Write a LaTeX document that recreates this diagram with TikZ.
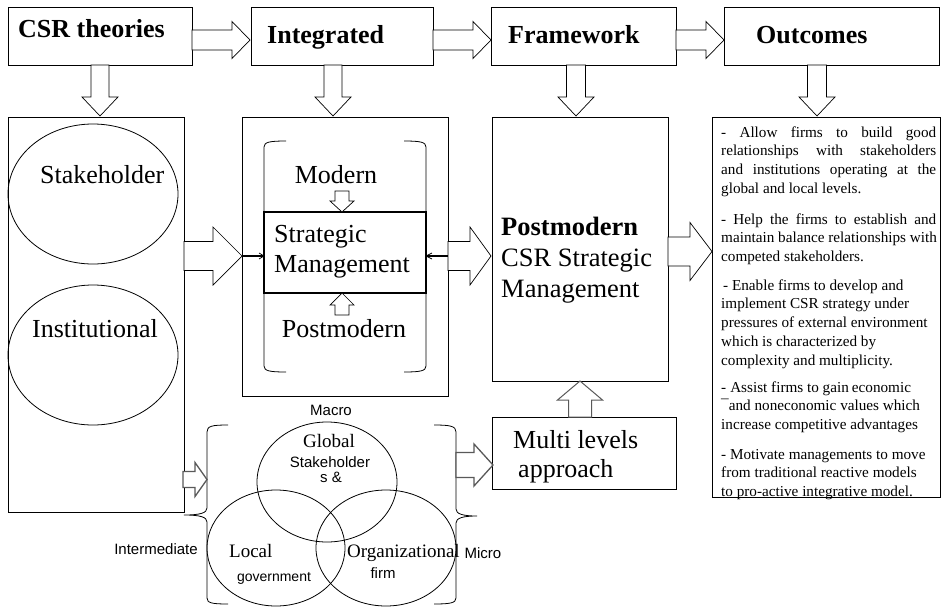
\documentclass[tikz,border=0pt]{standalone}
\usepackage{fontspec}
\setmainfont{Liberation Serif}
\newfontfamily\arialf{Liberation Sans}
\usetikzlibrary{shapes.geometric}
\newcommand\rarr[7][blk]{\filldraw[#1] (#2,#5-#6) -- (#3,#5-#6) -- (#3,#5-#7) -- (#4,#5) -- (#3,#5+#7) -- (#3,#5+#6) -- (#2,#5+#6) -- cycle;}
\newcommand\darr[7][blk]{\filldraw[#1] (#5-#6,#2) -- (#5-#6,#3) -- (#5-#7,#3) -- (#5,#4) -- (#5+#7,#3) -- (#5+#6,#3) -- (#5+#6,#2) -- cycle;}
\newcommand\jl[1]{\hbox to\hsize{\spaceskip=0.25em plus 1fil\relax#1}}
\begin{document}
\begin{tikzpicture}[x=1pt,y=-1pt,
 box/.style={draw, line width=0.8pt, anchor=north west, inner sep=0pt, outer sep=0pt},
 blk/.style={draw, line width=0.7pt, fill=white, line join=miter},
 gblk/.style={draw=black!65, line width=1.3pt, fill=white, line join=miter},
 txt/.style={inner sep=0pt, anchor=base west},
 txtc/.style={inner sep=0pt, anchor=base},
 circ/.style={draw, ellipse, line width=0.8pt, inner sep=0pt},
 big/.style={font=\fontsize{26}{31}\selectfont},
 head/.style={font=\fontsize{26}{30}\selectfont\bfseries},
 venn/.style={font=\fontsize{19}{22}\selectfont},
 sans/.style={font=\arialf\fontsize{15}{18}\selectfont},
 para/.style={inner sep=0pt, anchor=base west, font=\fontsize{15.2}{18.8}\selectfont},
]
\useasboundingbox (0,0) rectangle (942,608);
% top row
\node[box, minimum width=184pt, minimum height=58pt] (csr) at (8,7) {};
\node[box, minimum width=182pt, minimum height=58pt] (integ) at (251,7) {};
\node[box, minimum width=185pt, minimum height=58pt] (frame) at (491,7) {};
\node[box, minimum width=215pt, minimum height=58pt] (outc) at (724,7) {};
\node[txt, head] (tcsr) at (18,37) {CSR theories};
\node[txt, head] (tint) at (267,43) {Integrated};
\node[txt, head] (tfra) at (508,43) {Framework};
\node[txt, head] (tout) at (756,43) {Outcomes};
\rarr{192}{232}{250}{40}{10}{18.5}
\rarr{433}{473}{491}{40}{10}{18.5}
\rarr{676}{706}{724}{40}{10}{18.5}
\darr{65}{97}{116}{100}{9}{18}
\darr{65}{97}{116}{333}{9}{18}
\darr{65}{97}{116}{576}{9.5}{18}
\darr{65}{97}{116}{817}{9.5}{18}
% second row
\node[box, minimum width=176pt, minimum height=395pt] (lbox) at (8,117) {};
\node[box, minimum width=206pt, minimum height=279pt] (mbox) at (242,117) {};
\node[box, minimum width=176pt, minimum height=264pt] (pbox) at (492,117) {};
\node[box, minimum width=228pt, minimum height=380pt] (obox) at (712,117) {};
\node[circ, minimum width=170pt, minimum height=140pt] (estk) at (93,194) {};
\node[circ, minimum width=170pt, minimum height=140pt] (eins) at (93,355) {};
\node[txt, big] (tstk) at (40,183) {Stakeholder};
\node[txt, big] (tins) at (32,337) {Institutional};
% middle box contents
\draw[line width=0.8pt] (286,141) .. controls (270,141) and (264,142) .. (264,147) -- (264,366) .. controls (264,371) and (270,372) .. (286,372);
\draw[line width=0.8pt] (404,141) .. controls (420,141) and (426,142) .. (426,147) -- (426,366) .. controls (426,371) and (420,372) .. (404,372);
\node[box, line width=1.3pt, minimum width=162pt, minimum height=81pt] (smbox) at (264,212) {};
\node[txtc, big] (tmod) at (336,183) {Modern};
\node[txtc, big] (tpost) at (344,337) {Postmodern};
\node[txt, big] (tsm1) at (274,242) {Strategic};
\node[txt, big] (tsm2) at (274,272) {Management};
\darr{191}{201}{212}{342}{7}{12}
\darr{315}{305}{293}{342}{7}{12}
\draw[line width=1.3pt] (242,256) -- (264,256);
\draw[line width=0.7pt] (264,256) -- (259,253) (264,256) -- (259,259);
\draw[line width=1.3pt] (426,256) -- (448,256);
\draw[line width=0.7pt] (426,256) -- (432,253) (426,256) -- (432,259);
% block arrows between second-row boxes
\rarr{184}{213}{242}{256}{14.5}{29}
\rarr{448}{470}{491}{256}{14.5}{29}
\rarr{668}{690}{712}{251.5}{14.5}{29}
% postmodern box text
\node[txt, font=\fontsize{26.5}{31}\selectfont\bfseries] (tp1) at (501,235) {Postmodern};
\node[txt, font=\fontsize{26.5}{31}\selectfont] (tp2) at (501,266) {CSR Strategic};
\node[txt, font=\fontsize{26.5}{31}\selectfont] (tp3) at (501,297) {Management};
% outcomes text
\node[para] (p1) at (721,137) {\vtop{\hsize=215pt\parindent=0pt
 \jl{- Allow firms to build good}\jl{relationships with stakeholders}\jl{and institutions operating at the}\hbox{global and local levels.}}};
\node[para] (p2) at (721,224) {\vtop{\hsize=215pt\parindent=0pt
 \jl{- Help the firms to establish and}\jl{maintain balance relationships with}\hbox{competed stakeholders.}}};
\node[para] (p3) at (721,290) {\vtop{\hsize=215pt\parindent=0pt
 \hbox{\kern2pt- Enable firms to develop and}\hbox{implement CSR strategy under}\hbox{pressures of external environment}\hbox{which is characterized by}\hbox{complexity and multiplicity.}}};
\node[para] (p4) at (721,392) {\vtop{\hsize=215pt\parindent=0pt
 \hbox{-\kern4pt Assist firms to gain\kern3pt economic}\hbox{¯and noneconomic values which}\hbox{increase competitive advantages}}};
\node[para] (p5) at (721,459) {\vtop{\hsize=215pt\parindent=0pt
 \hbox{- Motivate managements to move}\hbox{from traditional reactive models}\hbox{to pro-active integrative model.}}};
% multi levels
\node[box, minimum width=184pt, minimum height=72pt] (mbx) at (492,417) {};
\node[txt, big] (tm1) at (513,448) {Multi levels};
\node[txt, big] (tm2) at (518,477) {approach};
\darr[gblk, line width=1pt]{417}{400}{381}{580}{11.5}{22.5}
% venn
\node[circ, minimum width=140pt, minimum height=120pt] (cglob) at (327,482) {};
\node[circ, minimum width=138pt, minimum height=116pt] (cloc) at (276,548) {};
\node[circ, minimum width=140pt, minimum height=116pt] (corg) at (386,548) {};
\draw[line width=0.8pt] (228,425) .. controls (212,425) and (207,426) .. (207,432) -- (207,508) .. controls (207,513) and (200,515) .. (184,515) .. controls (200,515) and (207,517) .. (207,522) -- (207,598) .. controls (207,603) and (212,604) .. (228,604);
\draw[line width=0.8pt] (434,425) .. controls (450,425) and (456,426) .. (456,432) -- (456,509) .. controls (456,514) and (463,516) .. (477,516) .. controls (463,516) and (456,518) .. (456,523) -- (456,598) .. controls (456,603) and (450,604) .. (434,604);
\node[txtc, sans] (tmacro) at (331,415) {Macro};
\node[txtc, sans] (tinter) at (156,554) {Intermediate};
\node[txtc, sans] (tmicro) at (483,558) {Micro};
\node[txtc, venn] (tglob) at (329,447) {Global};
\node[txtc, sans] (tgs1) at (330,467) {Stakeholder};
\node[txtc, sans] (tgs2) at (331,482) {s \&};
\node[txt, venn] (tloc) at (229,557) {Local};
\node[txtc, sans, font=\arialf\fontsize{14}{17}\selectfont] (tgov) at (274,581) {government};
\node[txt, venn] (torg) at (347,557) {Organizational};
\node[txtc, sans] (tfirm) at (383,578) {firm};
\rarr[gblk]{183}{195}{207}{479.5}{8}{17}
\rarr[gblk]{456}{474}{493}{465}{12.5}{21}
\end{tikzpicture}
\end{document}
